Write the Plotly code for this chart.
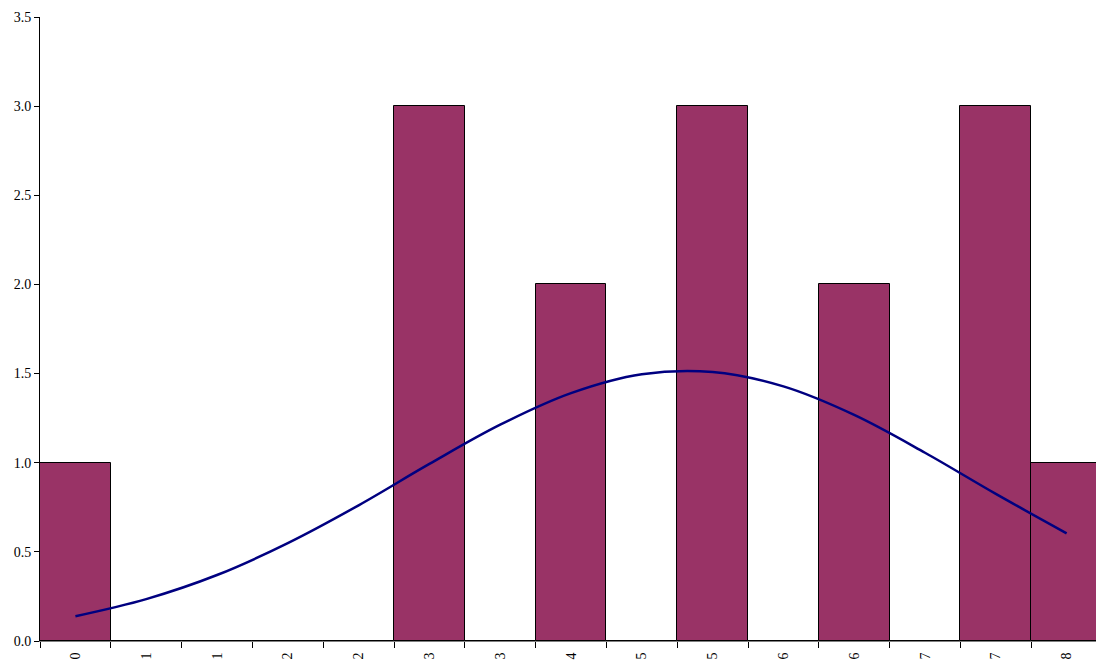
import plotly.graph_objects as go

bin_labels = ['0', '1', '1', '2', '2', '3', '3', '4', '5', '5', '6', '6', '7', '7', '8']
counts = [1, 0, 0, 0, 0, 3, 0, 2, 0, 3, 0, 2, 0, 3, 1]
normal_curve = [0.139, 0.235, 0.370, 0.549, 0.761, 0.993, 1.213, 1.390, 1.496,
                1.509, 1.428, 1.268, 1.056, 0.825, 0.604]
y_ticks = [0.0, 0.5, 1.0, 1.5, 2.0, 2.5, 3.0, 3.5]

pos = list(range(len(bin_labels)))
edges = [p + 0.5 for p in pos[:-1]] + [-0.5]

fig = go.Figure()
fig.add_trace(go.Bar(
    x=pos, y=counts,
    marker=dict(color='#993366', line=dict(color='black', width=1)),
    width=1.0,
))
fig.add_trace(go.Scatter(
    x=pos, y=normal_curve, mode='lines',
    line=dict(color='#000080', width=2.5, shape='spline'),
))

fig.update_layout(
    width=1096, height=660,
    margin=dict(l=40, r=0, t=17, b=19, autoexpand=False),
    paper_bgcolor='white', plot_bgcolor='white',
    showlegend=False, bargap=0,
    font=dict(family='Liberation Serif, Times New Roman, serif', size=14, color='black'),
)
fig.update_xaxes(
    range=[-0.5, 14.415], automargin=False,
    tickvals=pos, ticktext=bin_labels, tickangle=-90, ticklabelstandoff=5,
    ticks='', showgrid=False, zeroline=False,
    showline=True, linecolor='#808080', linewidth=1,
    minor=dict(tickvals=edges, ticks='outside', ticklen=6, tickcolor='black', showgrid=False),
)
fig.update_yaxes(
    range=[0, 3.5], tickvals=y_ticks, tickformat='.1f', automargin=False,
    ticks='outside', ticklen=5, tickcolor='black',
    showgrid=False, zeroline=False,
    showline=True, linecolor='black', linewidth=1,
)

fig.write_html("out.html", config={'displayModeBar': False},
               post_script="document.body.style.margin='0';")
